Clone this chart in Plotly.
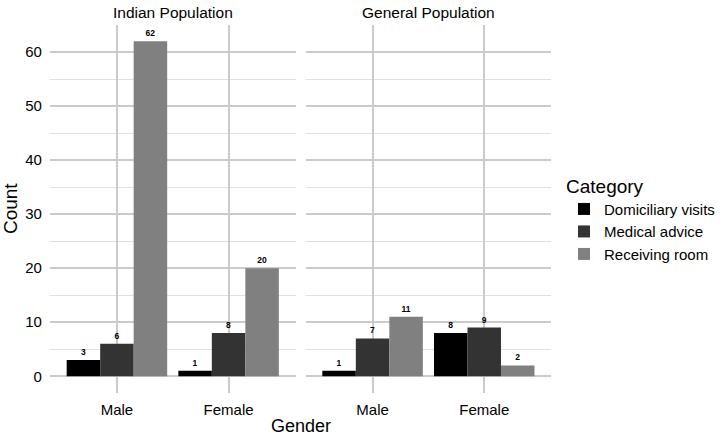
import plotly.graph_objects as go

genders = ["Male", "Female"]
categories = ["Domiciliary visits", "Medical advice", "Receiving room"]
indian_counts = {
    "Domiciliary visits": [3, 1],
    "Medical advice": [6, 8],
    "Receiving room": [62, 20],
}
general_counts = {
    "Domiciliary visits": [1, 8],
    "Medical advice": [7, 9],
    "Receiving room": [11, 2],
}
panel_titles = ["Indian Population", "General Population"]
colors = {"Domiciliary visits": "#000000", "Medical advice": "#333333", "Receiving room": "#808080"}

FONT = "Liberation Sans, Arial, sans-serif"
fig = go.Figure()

for i, (data, xa, ya) in enumerate([(indian_counts, "x", "y"), (general_counts, "x2", "y2")]):
    for cat in categories:
        fig.add_trace(go.Bar(
            x=genders, y=data[cat], name=cat, xaxis=xa, yaxis=ya,
            marker=dict(color=colors[cat], line=dict(width=0)),
            text=[str(v) for v in data[cat]], textposition="outside",
            textfont=dict(size=8.5, color="#000000", family=FONT, weight="bold"),
            cliponaxis=False, showlegend=(i == 0), legendgroup=cat,
            hoverinfo="skip",
        ))

H = 437.0
y_dom = [(H - 393) / H, (H - 24.5) / H]
yrange = [-3.1, 65.1]
axis_common_y = dict(
    range=yrange, tick0=0, dtick=10, showgrid=True, gridcolor="#cbcbcb", gridwidth=1.5,
    minor=dict(tick0=0, dtick=5, showgrid=True, gridcolor="#e0e0e0", gridwidth=1),
    zeroline=False, showline=False, ticks="", domain=y_dom,
)
axis_common_x = dict(
    type="category", range=[-0.6, 1.6], showgrid=True, gridcolor="#cbcbcb", gridwidth=1.5,
    zeroline=False, showline=False, ticks="", ticklabelstandoff=6,
    tickfont=dict(size=15, color="#000000", family=FONT),
)

fig.update_layout(
    width=720, height=437,
    margin=dict(l=0, r=0, t=0, b=0),
    paper_bgcolor="white", plot_bgcolor="white",
    barmode="group", bargap=0.1, bargroupgap=0,
    font=dict(family=FONT, color="#000000"),
    xaxis=dict(axis_common_x, domain=[50 / 720, 296 / 720], anchor="y"),
    xaxis2=dict(axis_common_x, domain=[306 / 720, 552 / 720], anchor="y2"),
    yaxis=dict(axis_common_y, anchor="x", showticklabels=True, ticklabelstandoff=7,
               tickfont=dict(size=15, color="#000000", family=FONT),
               title=dict(text="Count", font=dict(size=19, family=FONT), standoff=5)),
    yaxis2=dict(axis_common_y, anchor="x2", showticklabels=False),
    legend=dict(
        title=dict(text="Category", font=dict(size=19, family=FONT)),
        font=dict(size=15, family=FONT), x=565 / 720, xanchor="left",
        y=1 - 168 / H, yanchor="top", tracegroupgap=0, itemsizing="constant",
        bgcolor="rgba(0,0,0,0)",
    ),
    annotations=[
        dict(text=panel_titles[0], x=0.5, xref="x domain", y=(H - 12) / H, yref="paper",
             showarrow=False, font=dict(size=15.5, family=FONT), yanchor="middle"),
        dict(text=panel_titles[1], x=0.5, xref="x2 domain", y=(H - 12) / H, yref="paper",
             showarrow=False, font=dict(size=15.5, family=FONT), yanchor="middle"),
        dict(text="Gender", x=301 / 720, xref="paper", y=(H - 426) / H, yref="paper",
             showarrow=False, font=dict(size=18, family=FONT), yanchor="middle"),
    ],
)

fig.write_html("out.html")
